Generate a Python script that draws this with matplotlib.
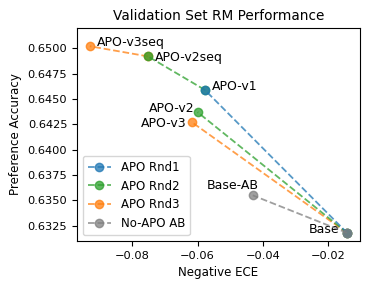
import matplotlib
matplotlib.use("Agg")
import matplotlib.pyplot as plt
from matplotlib.ticker import MultipleLocator, FormatStrFormatter

# points (negative ECE, preference accuracy)
names = ['Base', 'Base-AB', 'APO-v1', 'APO-v2', 'APO-v3', 'APO-v2seq', 'APO-v3seq']
neg_ece = [-0.0142, -0.0431, -0.0578, -0.0600, -0.0617, -0.0752, -0.0930]
pref_acc = [0.6318, 0.6355, 0.6459, 0.6437, 0.6427, 0.6492, 0.6502]
pt = {n: (x, y) for n, x, y in zip(names, neg_ece, pref_acc)}

# segments per series
series = {
    'APO Rnd1': [('Base', 'APO-v1')],
    'APO Rnd2': [('Base', 'APO-v2'), ('APO-v1', 'APO-v2seq')],
    'APO Rnd3': [('Base', 'APO-v3'), ('APO-v2seq', 'APO-v3seq')],
    'No-APO AB': [('Base', 'Base-AB')],
}
colors = ['tab:blue', 'tab:green', 'tab:orange', 'tab:gray']
zorders = [4, 3, 2, 5]

fig = plt.figure(figsize=(3.73, 2.90), dpi=100)
ax = fig.add_axes([0.2064, 0.169, 0.7587, 0.7345])

for (label, segs), c, z in zip(series.items(), colors, zorders):
    for k, (a, b) in enumerate(segs):
        ax.plot([pt[a][0], pt[b][0]], [pt[a][1], pt[b][1]], '--o', color=c,
                alpha=0.75, markersize=6, lw=1.3, zorder=z,
                label=label if k == 0 else None)

# labels: (dx, dy) in points, ha
offsets = {
    'Base': (-5.5, 2.4, 'right'),
    'Base-AB': (4.5, 6.8, 'right'),
    'APO-v1': (5, 2.5, 'left'),
    'APO-v2': (-2.5, 3, 'right'),
    'APO-v3': (-4, -1, 'right'),
    'APO-v2seq': (5, -0.5, 'left'),
    'APO-v3seq': (5, 2.5, 'left'),
}
for n in names:
    dx, dy, ha = offsets[n]
    ax.annotate(n, pt[n], xytext=(dx, dy), textcoords='offset points',
                ha=ha, va='center', fontsize=9)

ax.set_ylim(0.6310, 0.6520)
ax.yaxis.set_major_locator(MultipleLocator(0.0025))
ax.yaxis.set_major_formatter(FormatStrFormatter('%.4f'))
ax.set_xlabel('Negative ECE', fontsize=8.6)
ax.set_ylabel('Preference Accuracy', fontsize=8.6)
ax.set_title('Validation Set RM Performance', fontsize=9.8)
ax.tick_params(labelsize=8.2)
ax.legend(loc='lower left', fontsize=8.5)

fig.savefig('out.png', dpi=100)
